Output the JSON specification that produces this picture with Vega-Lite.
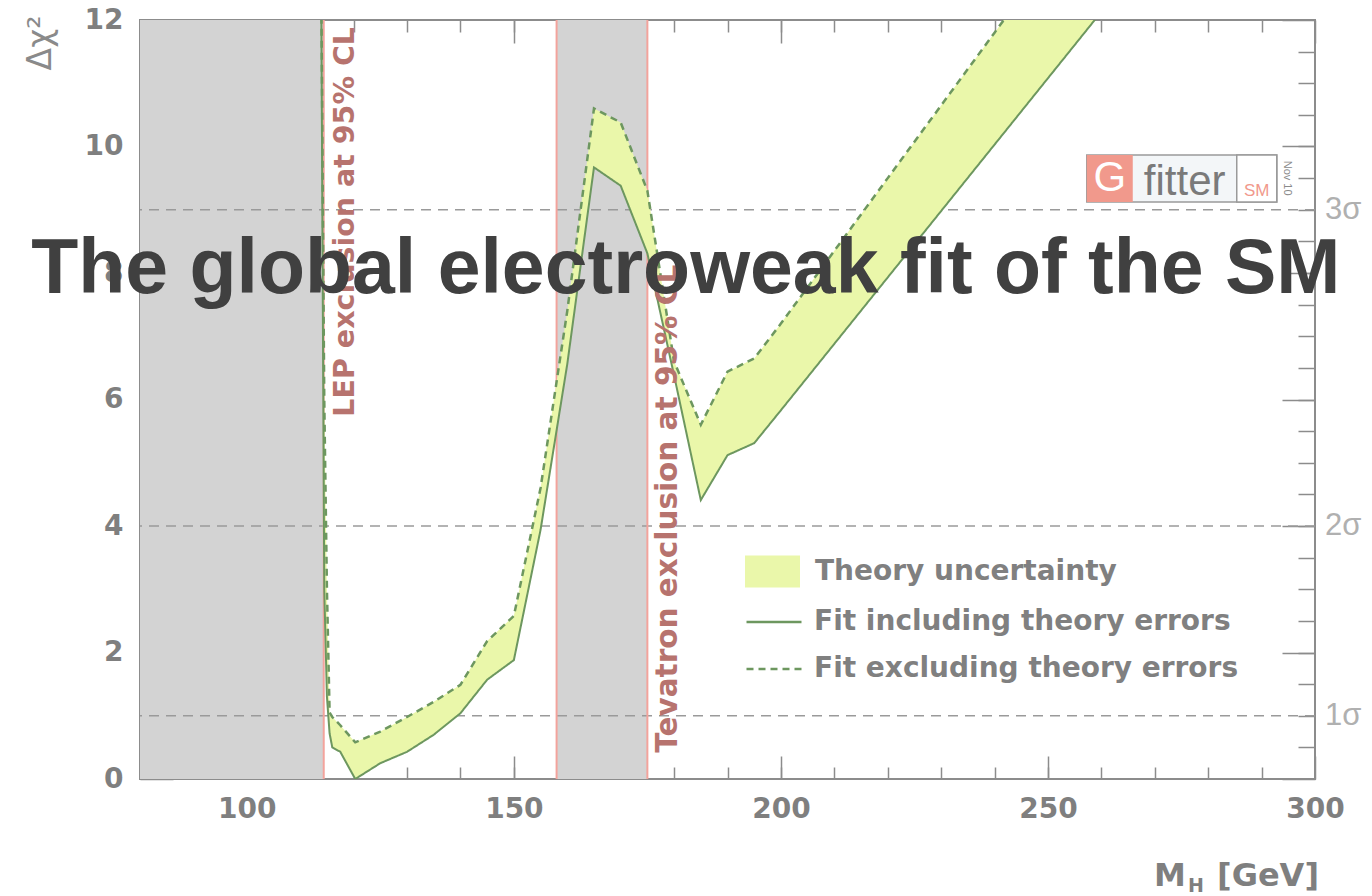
{
  "$schema": "https://vega.github.io/schema/vega-lite/v6.json",
  "width": 1175,
  "height": 759,
  "autosize": {"type": "none"},
  "padding": {"left": 140, "top": 20, "right": 57, "bottom": 117},
  "background": "white",
  "config": {
    "view": {"stroke": "#8c8c8c", "strokeWidth": 2},
    "axis": {"grid": false, "domain": false, "tickColor": "#8c8c8c", "tickWidth": 1.5},
    "legend": {
      "labelFont": "DejaVu Sans",
      "labelFontWeight": "bold",
      "labelFontSize": 28,
      "labelColor": "#808080",
      "labelLimit": 1000,
      "padding": 0
    }
  },
  "datasets": {
    "fit": [
      {"mh": 113.9, "chi2_incl": 13.0, "chi2_excl": 13.0},
      {"mh": 114.5, "chi2_incl": 3.0, "chi2_excl": 6.0},
      {"mh": 115.0, "chi2_incl": 1.3, "chi2_excl": 3.0},
      {"mh": 115.5, "chi2_incl": 0.72, "chi2_excl": 1.05},
      {"mh": 116.0, "chi2_incl": 0.5, "chi2_excl": 0.98},
      {"mh": 117.5, "chi2_incl": 0.43, "chi2_excl": 0.85},
      {"mh": 120.3, "chi2_incl": 0.0, "chi2_excl": 0.58},
      {"mh": 125, "chi2_incl": 0.25, "chi2_excl": 0.75},
      {"mh": 130, "chi2_incl": 0.43, "chi2_excl": 0.98},
      {"mh": 135, "chi2_incl": 0.7, "chi2_excl": 1.22},
      {"mh": 140, "chi2_incl": 1.04, "chi2_excl": 1.49},
      {"mh": 145, "chi2_incl": 1.57, "chi2_excl": 2.18},
      {"mh": 150, "chi2_incl": 1.88, "chi2_excl": 2.58},
      {"mh": 155, "chi2_incl": 3.94, "chi2_excl": 4.6},
      {"mh": 160, "chi2_incl": 6.56, "chi2_excl": 7.4},
      {"mh": 165, "chi2_incl": 9.67, "chi2_excl": 10.6},
      {"mh": 170, "chi2_incl": 9.38, "chi2_excl": 10.38},
      {"mh": 175, "chi2_incl": 8.31, "chi2_excl": 9.3},
      {"mh": 180, "chi2_incl": 6.38, "chi2_excl": 6.6},
      {"mh": 185, "chi2_incl": 4.41, "chi2_excl": 5.6},
      {"mh": 190, "chi2_incl": 5.12, "chi2_excl": 6.44},
      {"mh": 195, "chi2_incl": 5.31, "chi2_excl": 6.65},
      {"mh": 200, "chi2_incl": 5.83, "chi2_excl": 7.2},
      {"mh": 210, "chi2_incl": 6.88, "chi2_excl": 8.35},
      {"mh": 220, "chi2_incl": 7.93, "chi2_excl": 9.5},
      {"mh": 230, "chi2_incl": 8.98, "chi2_excl": 10.65},
      {"mh": 240, "chi2_incl": 10.03, "chi2_excl": 11.8},
      {"mh": 250, "chi2_incl": 11.08, "chi2_excl": 12.95},
      {"mh": 260, "chi2_incl": 12.13, "chi2_excl": 14.1}
    ],
    "exclusion": [
      {"experiment": "LEP", "mh_low": 80, "mh_high": 114.4, "label": "LEP exclusion at 95% CL"},
      {"experiment": "Tevatron", "mh_low": 158, "mh_high": 175, "label": "Tevatron exclusion at 95% CL"}
    ],
    "limits": [
      {"mh": 114.4},
      {"mh": 158},
      {"mh": 175}
    ],
    "sigma": [
      {"chi2": 1, "label": "1σ"},
      {"chi2": 4, "label": "2σ"},
      {"chi2": 9, "label": "3σ"}
    ]
  },
  "layer": [
    {
      "data": {"name": "exclusion"},
      "mark": {"type": "rect", "color": "#d3d3d3"},
      "encoding": {
        "x": {
          "field": "mh_low", "type": "quantitative",
          "scale": {"domain": [80, 300], "nice": false, "zero": false},
          "axis": {
            "orient": "bottom", "title": null, "ticks": false, "labelFlush": false,
            "values": [100, 150, 200, 250, 300],
            "labelFont": "DejaVu Sans", "labelFontWeight": "bold", "labelFontSize": 28,
            "labelColor": "#7f7f7f", "labelPadding": 16
          }
        },
        "x2": {"field": "mh_high"}
      }
    },
    {
      "data": {"name": "sigma"},
      "mark": {"type": "rule", "stroke": "#9a9a9a", "strokeWidth": 1.5, "strokeDash": [10, 7]},
      "encoding": {
        "y": {
          "field": "chi2", "type": "quantitative",
          "scale": {"domain": [0, 12], "nice": false, "zero": true},
          "axis": {
            "orient": "right", "title": null, "labels": false,
            "values": [0, 2, 4, 6, 8, 10, 12], "tickSize": -33
          }
        }
      }
    },
    {
      "data": {"name": "limits"},
      "mark": {"type": "rule", "stroke": "#f3a39c", "strokeWidth": 2},
      "encoding": {
        "x": {
          "field": "mh", "type": "quantitative",
          "axis": {
            "orient": "bottom", "title": null, "labels": false,
            "values": [100, 150, 200, 250, 300], "tickSize": -23
          }
        }
      }
    },
    {
      "data": {"name": "fit"},
      "mark": {"type": "area", "clip": true},
      "encoding": {
        "x": {
          "field": "mh", "type": "quantitative",
          "axis": {
            "orient": "bottom", "title": null, "labels": false,
            "values": [90, 100, 110, 120, 130, 140, 150, 160, 170, 180, 190, 200, 210, 220, 230, 240, 250, 260, 270, 280, 290],
            "tickSize": -12
          }
        },
        "y": {
          "field": "chi2_incl", "type": "quantitative",
          "axis": {
            "orient": "left", "ticks": false,
            "values": [0, 2, 4, 6, 8, 10, 12],
            "labelFont": "DejaVu Sans", "labelFontWeight": "bold", "labelFontSize": 28,
            "labelColor": "#7f7f7f", "labelPadding": 17,
            "title": "Δχ²", "titleFont": "DejaVu Sans", "titleFontWeight": "normal",
            "titleFontSize": 33, "titleColor": "#8a8a8a", "titleAngle": -90,
            "titleAlign": "right", "titleBaseline": "middle",
            "titleX": -100, "titleY": -5
          }
        },
        "y2": {"field": "chi2_excl"},
        "fill": {
          "datum": "Theory uncertainty", "type": "nominal",
          "scale": {"range": ["#eaf7aa"]},
          "legend": {
            "title": null, "orient": "none", "legendX": 605, "legendY": 524,
            "symbolType": "M-1,-0.58H1V0.58H-1Z", "symbolSize": 3025,
            "symbolStrokeWidth": 0, "symbolOpacity": 1, "labelOffset": 15
          }
        }
      }
    },
    {
      "data": {"name": "fit"},
      "mark": {"type": "line", "clip": true, "stroke": "#6d975f", "strokeWidth": 2},
      "encoding": {
        "x": {
          "field": "mh", "type": "quantitative",
          "axis": {
            "orient": "top", "title": null, "labels": false,
            "values": [100, 150, 200, 250, 300], "tickSize": -23
          }
        },
        "y": {
          "field": "chi2_incl", "type": "quantitative",
          "axis": {
            "orient": "left", "title": null, "labels": false,
            "values": [0, 2, 4, 6, 8, 10, 12], "tickSize": -33
          }
        },
        "strokeDash": {
          "datum": "Fit including theory errors", "type": "nominal",
          "scale": {
            "domain": ["Fit including theory errors", "Fit excluding theory errors"],
            "range": [[1, 0], [7, 5]]
          },
          "legend": {
            "title": null, "orient": "none", "legendX": 605, "legendY": 573,
            "symbolType": "stroke", "symbolSize": 3025, "symbolStrokeColor": "#6d975f",
            "symbolStrokeWidth": 2.5, "labelOffset": 11, "rowPadding": 4
          }
        }
      }
    },
    {
      "data": {"name": "fit"},
      "mark": {"type": "line", "clip": true, "stroke": "#6d975f", "strokeWidth": 2.5},
      "encoding": {
        "x": {
          "field": "mh", "type": "quantitative",
          "axis": {
            "orient": "top", "title": null, "labels": false,
            "values": [90, 100, 110, 120, 130, 140, 150, 160, 170, 180, 190, 200, 210, 220, 230, 240, 250, 260, 270, 280, 290],
            "tickSize": -12
          }
        },
        "y": {
          "field": "chi2_excl", "type": "quantitative",
          "axis": {
            "orient": "left", "title": null, "labels": false,
            "values": [0.5, 1, 1.5, 2, 2.5, 3, 3.5, 4, 4.5, 5, 5.5, 6, 6.5, 7, 7.5, 8, 8.5, 9, 9.5, 10, 10.5, 11, 11.5],
            "tickSize": -17
          }
        },
        "strokeDash": {"datum": "Fit excluding theory errors", "type": "nominal"}
      }
    },
    {
      "data": {"name": "sigma"},
      "mark": {
        "type": "text", "align": "left", "baseline": "middle", "dx": 10,
        "font": "Liberation Sans", "fontSize": 31, "fill": "#b0b0b0"
      },
      "encoding": {
        "x": {"datum": 300, "type": "quantitative", "axis": null},
        "y": {
          "field": "chi2", "type": "quantitative",
          "axis": {
            "orient": "right", "title": null, "labels": false,
            "values": [0.5, 1, 1.5, 2, 2.5, 3, 3.5, 4, 4.5, 5, 5.5, 6, 6.5, 7, 7.5, 8, 8.5, 9, 9.5, 10, 10.5, 11, 11.5],
            "tickSize": -17
          }
        },
        "text": {"field": "label"}
      }
    },
    {
      "data": {"name": "exclusion"},
      "transform": [{"filter": "datum.experiment === 'LEP'"}],
      "mark": {
        "type": "text", "angle": -90, "align": "right", "baseline": "top",
        "dx": -7, "dy": 7, "font": "DejaVu Sans", "fontWeight": "bold",
        "fontSize": 28.5, "fill": "#b7736e"
      },
      "encoding": {
        "x": {"field": "mh_high", "type": "quantitative", "axis": null},
        "y": {"datum": 12, "type": "quantitative", "axis": null},
        "text": {"field": "label"}
      }
    },
    {
      "data": {"name": "exclusion"},
      "transform": [{"filter": "datum.experiment === 'Tevatron'"}],
      "mark": {
        "type": "text", "angle": -90, "align": "right", "baseline": "top",
        "dx": 0, "dy": 7, "font": "DejaVu Sans", "fontWeight": "bold",
        "fontSize": 29.5, "fill": "#b7736e"
      },
      "encoding": {
        "x": {"field": "mh_high", "type": "quantitative", "axis": null},
        "y": {"datum": 8.13, "type": "quantitative", "axis": null},
        "text": {"field": "label"}
      }
    },
    {
      "data": {"values": [{"part": "frame"}]},
      "mark": {"type": "rect", "fill": "#f3f6f8", "stroke": "#9a9a9a", "strokeWidth": 1.5},
      "encoding": {
        "x": {"datum": 257.27, "type": "quantitative", "axis": null},
        "x2": {"datum": 292.84},
        "y": {"datum": 9.866, "type": "quantitative", "axis": null},
        "y2": {"datum": 9.123}
      }
    },
    {
      "data": {"values": [{"part": "sm box"}]},
      "mark": {"type": "rect", "fill": "#ffffff", "stroke": "#9a9a9a", "strokeWidth": 1.5},
      "encoding": {
        "x": {"datum": 285.35, "type": "quantitative", "axis": null},
        "x2": {"datum": 292.84},
        "y": {"datum": 9.866, "type": "quantitative", "axis": null},
        "y2": {"datum": 9.123}
      }
    },
    {
      "data": {"values": [{"part": "g box"}]},
      "mark": {"type": "rect", "fill": "#f1998c"},
      "encoding": {
        "x": {"datum": 257.27, "type": "quantitative", "axis": null},
        "x2": {"datum": 265.88},
        "y": {"datum": 9.866, "type": "quantitative", "axis": null},
        "y2": {"datum": 9.123}
      }
    },
    {
      "data": {"values": [{"word": "G"}]},
      "mark": {"type": "text", "align": "center", "baseline": "middle", "font": "Liberation Sans", "fontSize": 42, "fill": "#ffffff"},
      "encoding": {
        "x": {"datum": 261.6, "type": "quantitative", "axis": null},
        "y": {"datum": 9.5, "type": "quantitative", "axis": null},
        "text": {"field": "word"}
      }
    },
    {
      "data": {"values": [{"word": "fitter"}]},
      "mark": {"type": "text", "align": "center", "baseline": "alphabetic", "font": "Liberation Sans", "fontSize": 42, "fill": "#7a7a7a"},
      "encoding": {
        "x": {"datum": 275.6, "type": "quantitative", "axis": null},
        "y": {"datum": 9.233, "type": "quantitative", "axis": null},
        "text": {"field": "word"}
      }
    },
    {
      "data": {"values": [{"word": "SM"}]},
      "mark": {"type": "text", "align": "center", "baseline": "alphabetic", "font": "Liberation Sans", "fontSize": 17, "fill": "#f1998c"},
      "encoding": {
        "x": {"datum": 289.1, "type": "quantitative", "axis": null},
        "y": {"datum": 9.217, "type": "quantitative", "axis": null},
        "text": {"field": "word"}
      }
    },
    {
      "data": {"values": [{"word": "Nov 10"}]},
      "mark": {"type": "text", "angle": 90, "align": "center", "baseline": "middle", "font": "Liberation Sans", "fontSize": 11, "fill": "#8a8a8a"},
      "encoding": {
        "x": {"datum": 294.7, "type": "quantitative", "axis": null},
        "y": {"datum": 9.5, "type": "quantitative", "axis": null},
        "text": {"field": "word"}
      }
    },
    {
      "data": {"values": [{"word": "M"}]},
      "mark": {"type": "text", "align": "left", "baseline": "alphabetic", "dx": -161, "font": "DejaVu Sans", "fontWeight": "bold", "fontSize": 32, "fill": "#7f7f7f"},
      "encoding": {
        "x": {"datum": 300, "type": "quantitative", "axis": null},
        "y": {"datum": -1.69, "type": "quantitative", "axis": null},
        "text": {"field": "word"}
      }
    },
    {
      "data": {"values": [{"word": "H"}]},
      "mark": {"type": "text", "align": "left", "baseline": "alphabetic", "dx": -127, "font": "DejaVu Sans", "fontWeight": "bold", "fontSize": 19, "fill": "#7f7f7f"},
      "encoding": {
        "x": {"datum": 300, "type": "quantitative", "axis": null},
        "y": {"datum": -1.785, "type": "quantitative", "axis": null},
        "text": {"field": "word"}
      }
    },
    {
      "data": {"values": [{"word": "[GeV]"}]},
      "mark": {"type": "text", "align": "right", "baseline": "alphabetic", "dx": 4, "font": "DejaVu Sans", "fontWeight": "bold", "fontSize": 32, "fill": "#7f7f7f"},
      "encoding": {
        "x": {"datum": 300, "type": "quantitative", "axis": null},
        "y": {"datum": -1.69, "type": "quantitative", "axis": null},
        "text": {"field": "word"}
      }
    },
    {
      "data": {"values": [{"heading": "The global electroweak fit of the SM"}]},
      "mark": {"type": "text", "align": "center", "baseline": "alphabetic", "font": "Liberation Sans", "fontWeight": "bold", "fontSize": 77, "fill": "#404040"},
      "encoding": {
        "x": {"datum": 182.2, "type": "quantitative", "axis": null},
        "y": {"datum": 7.684, "type": "quantitative", "axis": null},
        "text": {"field": "heading"}
      }
    }
  ],
  "resolve": {"axis": {"x": "independent", "y": "independent"}}
}
